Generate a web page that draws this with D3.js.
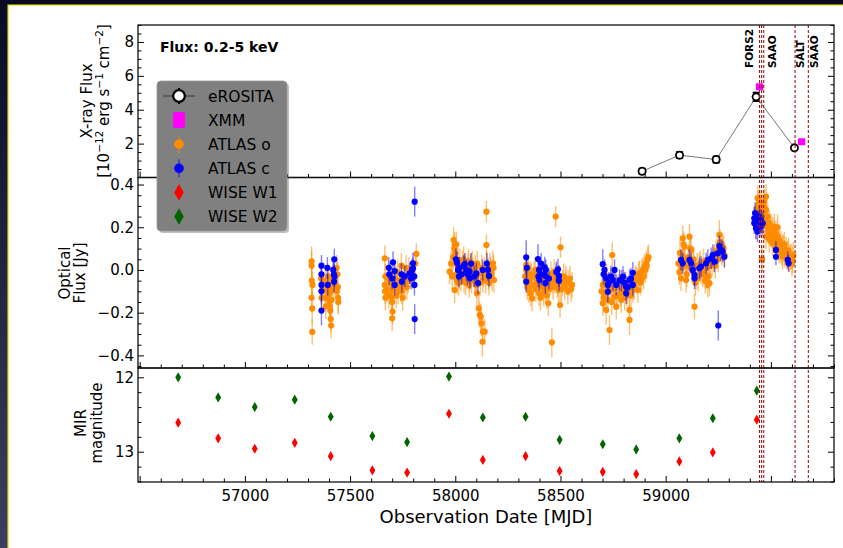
<!DOCTYPE html>
<html>
<head>
<meta charset="utf-8">
<script src="https://cdn.jsdelivr.net/npm/d3@7"></script>
<style>
    body { margin: 0; background: #fff; }
    svg text { font-family: "DejaVu Sans", sans-serif; }
</style>
</head>
<body>
<div id="chart"></div>
<script>

// ---- data ----

// x-ray flux [MJD, flux (1e-12 cgs), err]
let erosita = [[58888, 0.37, 0.15], [59066, 1.32, 0.18], [59240, 1.06, 0.18], [59430, 4.76, 0.25], [59612, 1.75, 0.12]];
let xmm = [[59446, 5.35, 0.1], [59646, 2.11, 0.1]];

// ATLAS o band [MJD, flux Jy, err]
let atlasO = [
    // 2015 season
    [57317, 0.04, 0.07], [57317, 0.02, 0.07], [57321, -0.07, 0.06], [57317, -0.13, 0.07], [57320, -0.29, 0.06],
    [57364, -0.10, 0.06], [57364, -0.13, 0.06], [57382, -0.05, 0.06], [57382, -0.09, 0.06], [57382, -0.13, 0.06],
    [57396, -0.03, 0.06], [57398, -0.08, 0.07], [57400, -0.11, 0.07], [57402, -0.15, 0.07], [57404, -0.17, 0.07],
    [57406, -0.19, 0.07], [57408, -0.23, 0.06], [57410, -0.26, 0.06], [57412, -0.14, 0.06], [57416, -0.04, 0.06],
    [57420, -0.09, 0.06], [57440, -0.02, 0.06], [57442, -0.08, 0.07], [57443, -0.13, 0.07], [57444, -0.15, 0.06],
    [57436, 0.01, 0.06], [57318, -0.05, 0.07], [57320, -0.18, 0.07], [57362, -0.04, 0.06], [57372, -0.08, 0.06],
    [57385, -0.17, 0.06], [57395, -0.12, 0.06], [57407, -0.10, 0.06], [57414, -0.06, 0.06], [57430, -0.07, 0.06],
    [57438, -0.10, 0.06],
    // 2016 season
    [57665, 0.055, 0.06], [57665, -0.07, 0.06], [57666, -0.10, 0.06], [57668, -0.13, 0.06], [57696, -0.10, 0.06],
    [57698, -0.13, 0.06], [57700, -0.15, 0.06], [57702, -0.195, 0.06], [57700, -0.226, 0.06], [57680, -0.04, 0.06],
    [57690, -0.02, 0.06], [57725, -0.01, 0.06], [57725, -0.07, 0.06], [57728, -0.10, 0.06], [57744, 0.02, 0.06],
    [57744, -0.07, 0.06], [57746, -0.10, 0.06], [57750, -0.13, 0.06], [57766, 0.01, 0.06], [57766, -0.04, 0.06],
    [57770, -0.08, 0.06], [57815, 0.075, 0.05], [57790, -0.02, 0.06], [57668, -0.03, 0.06], [57675, -0.09, 0.06],
    [57685, -0.12, 0.06], [57692, -0.06, 0.06], [57705, -0.08, 0.06], [57715, -0.04, 0.06], [57720, -0.12, 0.06],
    [57735, -0.05, 0.06], [57740, -0.09, 0.06], [57755, -0.04, 0.06], [57760, -0.07, 0.06], [57775, -0.05, 0.06],
    [57780, 0.0, 0.06], [57800, -0.03, 0.06], [57810, 0.03, 0.06],
    // 2017 season
    [57973, -0.008, 0.06], [57992, 0.14, 0.06], [57997, 0.117, 0.06], [57997, -0.094, 0.06], [58013, 0.047, 0.06],
    [58029, 0.0, 0.06], [58045, -0.008, 0.06], [58060, 0.016, 0.06], [58068, -0.039, 0.06], [58084, 0.0, 0.06],
    [58092, -0.047, 0.06], [58100, -0.07, 0.06], [58103, -0.109, 0.06], [58112, -0.18, 0.06], [58116, -0.21, 0.06],
    [58121, -0.219, 0.06], [58124, -0.25, 0.06], [58131, -0.289, 0.06], [58129, -0.336, 0.07], [58140, -0.289, 0.06],
    [58148, 0.273, 0.05], [58148, 0.117, 0.05], [58155, 0.0, 0.06], [58171, -0.016, 0.06], [58179, 0.031, 0.06],
    [58184, -0.047, 0.06], [58131, -0.047, 0.06], [58140, 0.0, 0.06], [58008, -0.05, 0.06], [58020, -0.03, 0.06],
    [58035, 0.03, 0.06], [58050, -0.06, 0.06], [58075, 0.02, 0.06], [58110, -0.02, 0.06], [58160, -0.06, 0.06],
    [58165, 0.02, 0.06], [57980, 0.03, 0.06], [57985, -0.03, 0.06], [57990, 0.06, 0.06], [58000, 0.08, 0.06],
    [58003, -0.02, 0.06], [58010, 0.02, 0.06], [58015, -0.06, 0.06], [58022, 0.04, 0.06], [58027, -0.04, 0.06],
    [58033, -0.01, 0.06], [58040, 0.05, 0.06], [58042, -0.05, 0.06], [58048, 0.02, 0.06], [58056, -0.03, 0.06],
    [58063, 0.04, 0.06], [58066, -0.07, 0.06], [58072, 0.01, 0.06], [58078, -0.05, 0.06], [58081, 0.03, 0.06],
    [58088, -0.02, 0.06], [58095, 0.01, 0.06], [58098, -0.04, 0.06], [58105, 0.03, 0.06], [58119, -0.06, 0.06],
    [58126, 0.01, 0.06], [58135, -0.02, 0.06], [58145, -0.05, 0.06], [58150, 0.03, 0.06], [58158, -0.03, 0.06],
    [58168, 0.0, 0.06], [58175, -0.04, 0.06], [58182, 0.01, 0.06], [57995, 0.10, 0.06], [58005, 0.12, 0.06],
    // 2018 season
    [58337, 0.023, 0.06], [58337, 0.0, 0.06], [58340, -0.031, 0.06], [58345, -0.062, 0.06], [58350, -0.094, 0.06],
    [58365, -0.133, 0.06], [58380, 0.0, 0.06], [58390, -0.062, 0.06], [58398, -0.109, 0.06], [58405, -0.13, 0.06],
    [58410, -0.04, 0.06], [58425, -0.02, 0.06], [58428, -0.094, 0.06], [58435, -0.12, 0.06], [58442, -0.156, 0.06],
    [58459, -0.339, 0.07], [58477, 0.25, 0.05], [58500, 0.106, 0.05], [58470, -0.01, 0.06], [58490, -0.094, 0.06],
    [58498, -0.164, 0.06], [58510, -0.06, 0.06], [58525, -0.04, 0.06], [58540, -0.06, 0.06], [58551, -0.09, 0.06],
    [58355, -0.02, 0.06], [58460, -0.05, 0.06], [58480, -0.03, 0.06], [58332, -0.03, 0.06], [58342, -0.08, 0.06],
    [58347, 0.01, 0.06], [58353, -0.05, 0.06], [58358, -0.11, 0.06], [58362, -0.03, 0.06], [58370, -0.07, 0.06],
    [58375, -0.02, 0.06], [58383, -0.09, 0.06], [58387, -0.04, 0.06], [58395, -0.07, 0.06], [58402, -0.02, 0.06],
    [58415, -0.08, 0.06], [58418, -0.03, 0.06], [58420, -0.11, 0.06], [58432, -0.06, 0.06], [58438, -0.03, 0.06],
    [58445, -0.09, 0.06], [58450, -0.06, 0.06], [58455, -0.02, 0.06], [58465, -0.08, 0.06], [58472, -0.05, 0.06],
    [58485, -0.07, 0.06], [58495, -0.04, 0.06], [58505, -0.09, 0.06], [58515, -0.03, 0.06], [58520, -0.08, 0.06],
    [58530, -0.06, 0.06], [58535, -0.10, 0.06], [58545, -0.04, 0.06], [58555, -0.07, 0.06],
    // 2019 season
    [58701, -0.07, 0.06], [58701, -0.156, 0.06], [58709, -0.109, 0.06], [58717, -0.187, 0.07], [58733, -0.281, 0.07],
    [58746, 0.07, 0.06], [58749, -0.047, 0.06], [58757, -0.125, 0.06], [58765, -0.172, 0.06], [58781, -0.078, 0.06],
    [58789, -0.141, 0.06], [58828, -0.234, 0.07], [58828, -0.187, 0.06], [58844, -0.094, 0.06], [58860, -0.047, 0.06],
    [58876, -0.016, 0.06], [58891, 0.0, 0.06], [58899, 0.016, 0.06], [58907, 0.031, 0.06], [58915, 0.05, 0.06],
    [58884, -0.047, 0.06], [58868, -0.094, 0.06], [58720, -0.03, 0.06], [58800, -0.06, 0.06], [58815, -0.11, 0.06],
    [58740, -0.09, 0.06], [58695, -0.10, 0.06], [58705, -0.13, 0.06], [58712, -0.06, 0.06], [58725, -0.14, 0.06],
    [58730, -0.10, 0.06], [58738, -0.05, 0.06], [58744, -0.15, 0.06], [58752, -0.09, 0.06], [58760, -0.06, 0.06],
    [58770, -0.12, 0.06], [58775, -0.08, 0.06], [58785, -0.11, 0.06], [58795, -0.09, 0.06], [58805, -0.13, 0.06],
    [58810, -0.07, 0.06], [58820, -0.10, 0.06], [58835, -0.12, 0.06], [58838, -0.06, 0.06], [58850, -0.08, 0.06],
    [58855, -0.04, 0.06], [58865, -0.05, 0.06], [58872, -0.02, 0.06], [58880, -0.06, 0.06], [58887, -0.01, 0.06],
    [58895, -0.03, 0.06], [58903, 0.0, 0.06], [58910, 0.02, 0.06], [58918, 0.06, 0.06],
    // 2020 season
    [59073, -0.039, 0.06], [59081, 0.148, 0.06], [59089, 0.109, 0.06], [59113, 0.156, 0.06], [59121, 0.094, 0.06],
    [59129, 0.031, 0.06], [59137, -0.172, 0.06], [59145, -0.031, 0.06], [59160, 0.016, 0.06], [59168, -0.008, 0.06],
    [59184, 0.0, 0.06], [59192, -0.031, 0.06], [59200, -0.07, 0.06], [59208, -0.062, 0.06], [59232, 0.062, 0.06],
    [59240, 0.078, 0.06], [59255, 0.164, 0.07], [59263, 0.117, 0.06], [59271, 0.109, 0.06], [59097, -0.047, 0.06],
    [59081, 0.062, 0.06], [59065, -0.01, 0.06], [59105, 0.02, 0.06], [59220, 0.03, 0.06], [59060, 0.03, 0.06],
    [59068, 0.08, 0.06], [59077, 0.01, 0.06], [59085, 0.12, 0.06], [59092, 0.04, 0.06], [59100, -0.02, 0.06],
    [59108, 0.06, 0.06], [59117, 0.10, 0.06], [59125, 0.0, 0.06], [59133, 0.05, 0.06], [59141, -0.06, 0.06],
    [59150, 0.02, 0.06], [59155, -0.04, 0.06], [59164, 0.03, 0.06], [59176, -0.02, 0.06], [59180, 0.04, 0.06],
    [59188, -0.05, 0.06], [59196, 0.01, 0.06], [59204, -0.03, 0.06], [59212, 0.02, 0.06], [59228, 0.05, 0.06],
    [59236, 0.02, 0.06], [59244, 0.09, 0.06], [59250, 0.05, 0.06], [59259, 0.13, 0.06], [59267, 0.08, 0.06],
    [59275, 0.10, 0.06], [59280, 0.07, 0.06],
    // 2021 flare
    [59437, 0.336, 0.06], [59445, 0.32, 0.06], [59453, 0.312, 0.06], [59461, 0.297, 0.06], [59469, 0.32, 0.06],
    [59477, 0.343, 0.06], [59477, 0.281, 0.06], [59485, 0.25, 0.06], [59493, 0.219, 0.06], [59501, 0.203, 0.06],
    [59508, 0.187, 0.06], [59516, 0.203, 0.06], [59524, 0.172, 0.06], [59532, 0.156, 0.06], [59540, 0.141, 0.06],
    [59548, 0.125, 0.06], [59556, 0.109, 0.06], [59572, 0.094, 0.06], [59580, 0.078, 0.06], [59596, 0.062, 0.06],
    [59603, 0.047, 0.06], [59458, 0.05, 0.06], [59477, 0.156, 0.06], [59493, 0.141, 0.06], [59508, 0.125, 0.06],
    [59524, 0.109, 0.06], [59540, 0.094, 0.06], [59556, 0.062, 0.06], [59445, 0.27, 0.06], [59453, 0.24, 0.06],
    [59461, 0.21, 0.06], [59469, 0.25, 0.06], [59485, 0.20, 0.06], [59500, 0.17, 0.06], [59516, 0.15, 0.06],
    [59532, 0.12, 0.06], [59548, 0.09, 0.06], [59564, 0.08, 0.06], [59588, 0.05, 0.06], [59564, 0.12, 0.06],
    [59532, 0.20, 0.06], [59516, 0.17, 0.06], [59469, 0.29, 0.06], [59437, 0.26, 0.06], [59430, 0.20, 0.06],
    [59433, 0.29, 0.06], [59441, 0.31, 0.06], [59449, 0.29, 0.06], [59457, 0.27, 0.06], [59465, 0.26, 0.06],
    [59473, 0.23, 0.06], [59481, 0.22, 0.06], [59489, 0.18, 0.06], [59497, 0.19, 0.06], [59505, 0.16, 0.06],
    [59512, 0.14, 0.06], [59520, 0.14, 0.06], [59528, 0.13, 0.06], [59536, 0.10, 0.06], [59544, 0.11, 0.06],
    [59552, 0.08, 0.06], [59560, 0.10, 0.06], [59568, 0.07, 0.06], [59576, 0.06, 0.06], [59584, 0.09, 0.06],
    [59592, 0.06, 0.06], [59600, 0.03, 0.06], [59606, 0.07, 0.06]
];

// ATLAS c band [MJD, flux Jy, err]
let atlasC = [
    [57364, 0.02, 0.05], [57364, -0.02, 0.05], [57364, -0.07, 0.05], [57364, -0.10, 0.05], [57364, -0.19, 0.07],
    [57392, 0.01, 0.05], [57394, -0.07, 0.05], [57425, 0.05, 0.05], [57423, -0.02, 0.05], [57426, -0.03, 0.05],
    [57424, -0.055, 0.05], [57420, 0.0, 0.05],
    [57684, 0.01, 0.05], [57686, -0.02, 0.05], [57704, 0.036, 0.05], [57712, -0.005, 0.05], [57712, -0.07, 0.05],
    [57744, -0.02, 0.05], [57746, -0.055, 0.05], [57783, -0.016, 0.05], [57799, 0.031, 0.05], [57799, 0.008, 0.05],
    [57805, -0.03, 0.05], [57806, -0.07, 0.05], [57807, 0.32, 0.07], [57807, -0.23, 0.07], [57790, -0.04, 0.05],
    [57795, 0.0, 0.05], [57700, -0.04, 0.05], [57760, -0.03, 0.05],
    [58008, 0.034, 0.05], [58013, 0.0, 0.05], [58017, -0.031, 0.05], [58045, 0.028, 0.05], [58053, 0.0, 0.05],
    [58068, -0.008, 0.05], [58070, -0.039, 0.05], [58100, -0.016, 0.05], [58108, -0.062, 0.05], [58155, 0.0, 0.05],
    [58160, -0.028, 0.05], [58003, 0.05, 0.05], [58020, 0.01, 0.05], [58030, -0.02, 0.05], [58040, 0.02, 0.05],
    [58058, -0.02, 0.05], [58075, 0.03, 0.05], [58090, -0.03, 0.05], [58130, 0.0, 0.05], [58150, 0.03, 0.05],
    [58337, 0.059, 0.08], [58337, -0.055, 0.05], [58393, 0.051, 0.07], [58398, 0.0, 0.05], [58400, -0.047, 0.05],
    [58425, 0.012, 0.05], [58428, -0.028, 0.05], [58428, -0.062, 0.05], [58488, 0.003, 0.05], [58493, -0.028, 0.05],
    [58493, -0.05, 0.05], [58408, 0.03, 0.05], [58340, 0.01, 0.05], [58395, -0.03, 0.05], [58410, -0.02, 0.05],
    [58430, 0.0, 0.05], [58445, -0.04, 0.05], [58480, -0.01, 0.05],
    [58701, 0.027, 0.07], [58709, 0.0, 0.05], [58717, -0.039, 0.05], [58725, -0.07, 0.05], [58725, -0.102, 0.05],
    [58749, -0.047, 0.05], [58757, 0.0, 0.05], [58781, -0.047, 0.05], [58797, -0.031, 0.05], [58812, -0.078, 0.05],
    [58812, -0.109, 0.05], [58828, -0.047, 0.05], [58844, -0.07, 0.05], [58844, -0.013, 0.05], [58705, -0.02, 0.05],
    [58730, -0.06, 0.05], [58740, -0.03, 0.05], [58765, -0.07, 0.05], [58790, -0.05, 0.05], [58805, -0.06, 0.05],
    [58820, -0.08, 0.05], [58835, -0.04, 0.05],
    [59073, 0.047, 0.05], [59081, 0.031, 0.05], [59113, 0.047, 0.05], [59121, 0.031, 0.05], [59129, 0.0, 0.05],
    [59137, -0.023, 0.05], [59137, -0.039, 0.05], [59160, 0.008, 0.05], [59168, 0.016, 0.05], [59192, 0.031, 0.05],
    [59200, 0.047, 0.05], [59216, 0.055, 0.05], [59224, 0.07, 0.05], [59232, 0.039, 0.05], [59247, 0.078, 0.05],
    [59255, 0.112, 0.05], [59263, 0.094, 0.05], [59271, 0.086, 0.05], [59279, 0.062, 0.05], [59250, -0.26, 0.07],
    [59421, 0.242, 0.05], [59421, 0.219, 0.05], [59429, 0.195, 0.05], [59437, 0.18, 0.05], [59445, 0.25, 0.05],
    [59453, 0.234, 0.05], [59453, 0.203, 0.05], [59461, 0.219, 0.05], [59425, 0.266, 0.05], [59441, 0.227, 0.05],
    [59524, 0.094, 0.04], [59524, 0.062, 0.04], [59580, 0.047, 0.04], [59584, 0.031, 0.04]
];

// WISE mid-IR magnitudes
let wiseMjd = [56683, 56873, 57047, 57237, 57408, 57606, 57771, 57970, 58131, 58334, 58496, 58701, 58860, 59065, 59224, 59433];
let wiseW1 = [12.61, 12.82, 12.96, 12.88, 13.06, 13.25, 13.28, 12.49, 13.11, 13.06, 13.26, 13.27, 13.30, 13.13, 13.01, 12.57];
let wiseW1Err = [0.02, 0.02, 0.02, 0.02, 0.02, 0.03, 0.03, 0.02, 0.02, 0.02, 0.03, 0.03, 0.03, 0.02, 0.02, 0.02];
let wiseW2 = [12.00, 12.27, 12.40, 12.30, 12.53, 12.79, 12.87, 11.99, 12.54, 12.53, 12.84, 12.90, 12.97, 12.82, 12.55, 12.18];
let wiseW2Err = [0.03, 0.04, 0.04, 0.04, 0.04, 0.05, 0.05, 0.03, 0.04, 0.04, 0.05, 0.05, 0.06, 0.05, 0.04, 0.04];

// spectroscopic epochs
let specLines = [59446, 59456, 59466, 59615, 59678];
let specLabels = [
    {text: "FORS2", mjd: 59398},
    {text: "SAAO", mjd: 59507},
    {text: "SALT", mjd: 59640},
    {text: "SAAO", mjd: 59706}
];

// ticks
let xMajor = [56500, 57000, 57500, 58000, 58500, 59000, 59500];
let xLabelled = [57000, 57500, 58000, 58500, 59000];
let xMinor = d3.range(56500, 59801, 100).filter(v => v % 500 !== 0);
let xrayMajor = [2, 4, 6, 8];
let xrayMinor = d3.range(0.5, 9.01, 0.5).filter(v => v % 2 !== 0);
let optMajor = [-0.4, -0.2, 0.0, 0.2, 0.4];
let optMinor = d3.range(-9, 9).map(v => v * 0.05).filter(v => Math.abs(Math.round(v * 100)) % 20 !== 0);
let mirMajor = [12, 13];
let mirMinor = [12.2, 12.4, 12.6, 12.8, 13.2, 13.4];

let legendItems = ["eROSITA", "XMM", "ATLAS o", "ATLAS c", "WISE W1", "WISE W2"];

// ---- layout ----
let W = 843, H = 548;
let left = 138, right = 834;
let panelTop = [25, 177.5], panelMid = [177.5, 368], panelBot = [368, 482];

let orange = "#ff8c00", blue = "#0000ff", magenta = "#ff00ff", red = "#ff0000", green = "#006400";
let specColor = "#9a1b1b";

let svg = d3.select("#chart").append("svg")
    .attr("width", W)
    .attr("height", H);

// dark slide frame around the white figure
let grad = svg.append("defs").append("linearGradient")
    .attr("id", "bg").attr("x1", 0).attr("y1", 0).attr("x2", 0).attr("y2", 1);
grad.append("stop").attr("offset", "0%").attr("stop-color", "#0a0a24");
grad.append("stop").attr("offset", "100%").attr("stop-color", "#3e3e5e");
svg.append("rect").attr("width", W).attr("height", H).attr("fill", "url(#bg)");
svg.append("rect").attr("x", 7.5).attr("y", 4.5).attr("width", W).attr("height", H).attr("fill", "#f0ec40");
svg.append("rect").attr("x", 9).attr("y", 6).attr("width", W).attr("height", H).attr("fill", "#fff");

// scales
let x = d3.scaleLinear().domain([56492, 59800]).range([left, right]);
let yX = d3.scaleLinear().domain([0, 9.0]).range([panelTop[1], panelTop[0]]);
let yO = d3.scaleLinear().domain([-0.459, 0.433]).range([panelMid[1], panelMid[0]]);
let yM = d3.scaleLinear().domain([11.875, 13.407]).range([panelBot[0], panelBot[1]]);

// ---- helpers ----
function errorBars(g, data, xs, ys, color, width, opacity, cap) {
    g.selectAll(null).data(data).enter().append("line")
        .attr("x1", d => xs(d[0])).attr("x2", d => xs(d[0]))
        .attr("y1", d => ys(d[1] - d[2])).attr("y2", d => ys(d[1] + d[2]))
        .attr("stroke", color).attr("stroke-width", width).attr("stroke-opacity", opacity);
    if (cap) {
        [-1, 1].forEach(s => {
            g.selectAll(null).data(data).enter().append("line")
                .attr("x1", d => xs(d[0]) - cap).attr("x2", d => xs(d[0]) + cap)
                .attr("y1", d => ys(d[1] + s * d[2])).attr("y2", d => ys(d[1] + s * d[2]))
                .attr("stroke", color).attr("stroke-width", 1.8);
        });
    }
}

let diamond = d3.symbol().type(d3.symbolDiamond);

// ---- top panel: x-ray ----
let gTop = svg.append("g");

gTop.append("path")
    .datum(erosita)
    .attr("d", d3.line().x(d => x(d[0])).y(d => yX(d[1])))
    .attr("fill", "none")
    .attr("stroke", "#555")
    .attr("stroke-width", 0.8);

errorBars(gTop, erosita, x, yX, "#000", 1.5, 1, 3.5);

gTop.selectAll(".ero").data(erosita).enter().append("circle")
    .attr("cx", d => x(d[0])).attr("cy", d => yX(d[1]))
    .attr("r", 3.6)
    .attr("fill", "#fff").attr("stroke", "#000").attr("stroke-width", 1.8);

errorBars(gTop, xmm, x, yX, magenta, 2, 1, 0);
gTop.selectAll(".xmm").data(xmm).enter().append("rect")
    .attr("x", d => x(d[0]) - 3.7).attr("y", d => yX(d[1]) - 3.5)
    .attr("width", 7.4).attr("height", 7)
    .attr("rx", 1)
    .attr("fill", magenta);

gTop.append("text")
    .attr("x", 160).attr("y", 52)
    .attr("font-size", 14).attr("font-weight", "bold")
    .text("Flux: 0.2-5 keV");

// ---- middle panel: optical ----
let gMid = svg.append("g");

errorBars(gMid, atlasO, x, yO, orange, 1.4, 0.55, 0);
gMid.selectAll(".o").data(atlasO).enter().append("circle")
    .attr("cx", d => x(d[0])).attr("cy", d => yO(d[1]))
    .attr("r", 3.1).attr("fill", orange);

errorBars(gMid, atlasC, x, yO, blue, 1.4, 0.5, 0);
gMid.selectAll(".c").data(atlasC).enter().append("circle")
    .attr("cx", d => x(d[0])).attr("cy", d => yO(d[1]))
    .attr("r", 3.1).attr("fill", blue);

// ---- bottom panel: WISE ----
let gBot = svg.append("g");
let w1 = wiseMjd.map((m, i) => [m, wiseW1[i], wiseW1Err[i]]);
let w2 = wiseMjd.map((m, i) => [m, wiseW2[i], wiseW2Err[i]]);

errorBars(gBot, w2, x, yM, green, 1.2, 0.8, 0);
errorBars(gBot, w1, x, yM, red, 1.2, 0.8, 0);
gBot.selectAll(".w2").data(w2).enter().append("path")
    .attr("d", diamond.size(30))
    .attr("transform", d => `translate(${x(d[0])},${yM(d[1])})`)
    .attr("fill", green);
gBot.selectAll(".w1").data(w1).enter().append("path")
    .attr("d", diamond.size(30))
    .attr("transform", d => `translate(${x(d[0])},${yM(d[1])})`)
    .attr("fill", red);

// ---- spectroscopic epochs ----
svg.selectAll(".spec").data(specLines).enter().append("line")
    .attr("x1", d => x(d)).attr("x2", d => x(d))
    .attr("y1", panelTop[0]).attr("y2", panelBot[1])
    .attr("stroke", specColor)
    .attr("stroke-width", 1.1)
    .attr("stroke-dasharray", "3,2");

svg.selectAll(".specLabel").data(specLabels).enter().append("text")
    .attr("transform", d => `translate(${x(d.mjd)},68) rotate(-90)`)
    .attr("dy", "0.35em")
    .attr("font-size", 10.5)
    .attr("font-weight", "bold")
    .text(d => d.text);

// ---- axes ----
function styleAxis(g) {
    g.select(".domain").remove();
    g.selectAll(".tick line").attr("stroke", "#000").attr("stroke-width", 1);
    g.selectAll("text").attr("font-size", 15).attr("font-family", "DejaVu Sans").attr("fill", "#000");
}

function yAxes(scale, major, minor, fmt) {
    svg.append("g").attr("transform", `translate(${left},0)`)
        .call(d3.axisLeft(scale).tickValues(major).tickSize(-6).tickPadding(4).tickFormat(fmt))
        .call(styleAxis);
    svg.append("g").attr("transform", `translate(${left},0)`)
        .call(d3.axisLeft(scale).tickValues(minor).tickSize(-3.5).tickFormat(""))
        .call(styleAxis);
    svg.append("g").attr("transform", `translate(${right},0)`)
        .call(d3.axisRight(scale).tickValues(major).tickSize(-6).tickFormat(""))
        .call(styleAxis);
    svg.append("g").attr("transform", `translate(${right},0)`)
        .call(d3.axisRight(scale).tickValues(minor).tickSize(-3.5).tickFormat(""))
        .call(styleAxis);
}

yAxes(yX, xrayMajor, xrayMinor, d3.format("d"));
yAxes(yO, optMajor, optMinor, d3.format(".1f"));
yAxes(yM, mirMajor, mirMinor, d3.format("d"));

[panelTop[1], panelMid[1], panelBot[1]].forEach((yb, i) => {
    svg.append("g").attr("transform", `translate(0,${yb})`)
        .call(d3.axisBottom(x).tickValues(xMajor).tickSize(-6).tickPadding(8)
            .tickFormat(d => (i === 2 && xLabelled.includes(d)) ? d : ""))
        .call(styleAxis);
    svg.append("g").attr("transform", `translate(0,${yb})`)
        .call(d3.axisBottom(x).tickValues(xMinor).tickSize(-3.5).tickFormat(""))
        .call(styleAxis);
});

// spines
[panelTop, panelMid, panelBot].forEach(p => {
    svg.append("rect")
        .attr("x", left).attr("y", p[0])
        .attr("width", right - left).attr("height", p[1] - p[0])
        .attr("fill", "none")
        .attr("stroke", "#111")
        .attr("stroke-width", 1.3);
});

// axis labels
function yLabel(lines, xs, yc) {
    lines.forEach((line, i) => {
        let t = svg.append("text")
            .attr("transform", `translate(${xs[i]},${yc}) rotate(-90)`)
            .attr("dy", "0.35em")
            .attr("text-anchor", "middle")
            .attr("font-size", 15);
        line.forEach(part => {
            t.append("tspan")
                .attr("baseline-shift", part.sup ? "super" : null)
                .attr("font-size", part.sup ? 10.5 : null)
                .text(part.t);
        });
    });
}

yLabel([[{t: "X-ray Flux"}],
        [{t: "[10"}, {t: "\u221212", sup: true}, {t: " erg s"}, {t: "\u22121", sup: true}, {t: " cm"}, {t: "\u22122", sup: true}, {t: "]"}]],
    [87, 104], 101);
yLabel([[{t: "Optical"}], [{t: "Flux [Jy]"}]], [65, 80], 273);
yLabel([[{t: "MIR"}], [{t: "magnitude"}]], [81, 97], 423);

svg.append("text")
    .attr("x", (left + right) / 2).attr("y", 523)
    .attr("text-anchor", "middle")
    .attr("font-size", 18)
    .text("Observation Date [MJD]");

// ---- legend ----
let lg = svg.append("g");
lg.append("rect")
    .attr("x", 159).attr("y", 83).attr("width", 130).attr("height", 150)
    .attr("rx", 4).attr("fill", "#4a4a4a").attr("opacity", 0.35);
lg.append("rect")
    .attr("x", 157).attr("y", 81).attr("width", 130).attr("height", 150)
    .attr("rx", 4).attr("fill", "#808080").attr("stroke", "#9a9a9a").attr("stroke-width", 0.8);

let mx = 179, tx = 208;
legendItems.forEach((name, i) => {
    let cy = 96 + i * 24.1;
    let g = lg.append("g");
    if (name === "eROSITA") {
        g.append("line").attr("x1", 163).attr("x2", 195).attr("y1", cy).attr("y2", cy).attr("stroke", "#333").attr("stroke-width", 0.9);
        g.append("line").attr("x1", mx).attr("x2", mx).attr("y1", cy - 8).attr("y2", cy + 8).attr("stroke", "#000").attr("stroke-width", 2);
        g.append("circle").attr("cx", mx).attr("cy", cy).attr("r", 5.8).attr("fill", "#fff").attr("stroke", "#000").attr("stroke-width", 2.2);
    } else if (name === "XMM") {
        g.append("rect").attr("x", mx - 6).attr("y", cy - 8).attr("width", 12).attr("height", 16).attr("rx", 2).attr("fill", magenta);
    } else if (name.startsWith("ATLAS")) {
        let c = name === "ATLAS o" ? orange : blue;
        g.append("line").attr("x1", mx).attr("x2", mx).attr("y1", cy - 9).attr("y2", cy + 9).attr("stroke", c).attr("stroke-width", 1.4).attr("stroke-opacity", 0.6);
        g.append("circle").attr("cx", mx).attr("cy", cy).attr("r", 4.8).attr("fill", c);
    } else {
        let c = name === "WISE W1" ? red : green;
        g.append("path").attr("d", diamond.size(80)).attr("transform", `translate(${mx},${cy})`).attr("fill", c);
    }
    g.append("text")
        .attr("x", tx).attr("y", cy)
        .attr("dy", "0.36em")
        .attr("font-size", 15.5)
        .attr("fill", "#000")
        .text(name);
});

</script>
</body>
</html>
